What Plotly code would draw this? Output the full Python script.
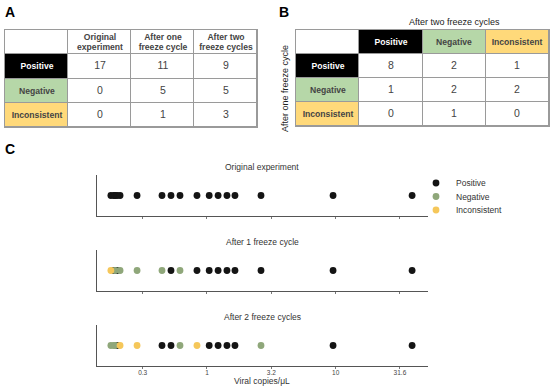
import plotly.graph_objects as go

# ---------------- data ----------------
status_labels = ["Positive", "Negative", "Inconsistent"]
col_headers_a = ["Original<br>experiment", "After one<br>freeze cycle", "After two<br>freeze cycles"]
counts_original = [17, 0, 0]
counts_one = [11, 5, 1]
counts_two = [9, 5, 3]

# cross table: rows = after one freeze cycle, columns = after two freeze cycles
cross_pos = [8, 2, 1]   # after one = Positive
cross_neg = [1, 2, 2]   # after one = Negative
cross_inc = [0, 1, 0]   # after one = Inconsistent

# viral copies per sample (copies/uL)
viral_copies = [0.179, 0.189, 0.193, 0.200, 0.211, 0.286, 0.447, 0.525, 0.617,
                0.836, 1.04, 1.22, 1.43, 1.65, 2.63, 9.55, 39.3]
status_original = ["Positive"] * 17
status_one = ["Inconsistent", "Positive", "Negative", "Positive", "Negative", "Negative",
              "Negative", "Positive", "Negative", "Positive", "Positive", "Positive",
              "Positive", "Positive", "Positive", "Positive", "Positive"]
status_two = ["Negative", "Negative", "Negative", "Positive", "Inconsistent", "Inconsistent",
              "Positive", "Positive", "Negative", "Inconsistent", "Positive", "Positive",
              "Positive", "Positive", "Negative", "Positive", "Positive"]
panel_titles = ["Original experiment", "After 1 freeze cycle", "After 2 freeze cycles"]
tick_vals = [0.3162, 1, 3.162, 10, 31.62]
tick_text = ["0.3", "1", "3.2", "10", "31.6"]

# ---------------- styles ----------------
W, H = 550, 387
FONT = "Arial, Liberation Sans, sans-serif"
GRID = "#9a9a9a"
fill_code = {"": 0, "Positive": 1, "Negative": 2, "Inconsistent": 3}
table_scale = [[0, "#ffffff"], [1 / 3, "#000000"], [2 / 3, "#b6d7a8"], [1, "#ffd97a"]]
dot_colors = {"Positive": "#141414", "Negative": "#8fa77a", "Inconsistent": "#f5c75a"}


def px(x):
    return x / W


def py(y):
    return 1 - y / H


def label(t, size=8.6):
    return "<br>".join(f"<span style='font-size:{size}px'><b>{ln}</b></span>"
                       for ln in t.split("<br>"))


def num(n):
    return f"<span style='font-size:10.5px'>{n}</span>"


fig = go.Figure()

# ---------------- Table A (heatmap cells) ----------------
text_a = [[""] + [label(h) for h in col_headers_a]]
z_a = [[0, 0, 0, 0]]
for i, s in enumerate(status_labels):
    text_a.append([label(s), num(counts_original[i]), num(counts_one[i]), num(counts_two[i])])
    z_a.append([fill_code[s], 0, 0, 0])

# ---------------- Table B (heatmap cells) ----------------
text_b = [[""] + [label(s) for s in status_labels]]
z_b = [[0] + [fill_code[s] for s in status_labels]]
for s, vals in zip(status_labels, [cross_pos, cross_neg, cross_inc]):
    text_b.append([label(s)] + [num(v) for v in vals])
    z_b.append([fill_code[s], 0, 0, 0])

for z, txt, ax in [(z_a, text_a, "4"), (z_b, text_b, "5")]:
    fig.add_trace(go.Heatmap(
        z=z, text=txt, texttemplate="%{text}", zmin=0, zmax=3, colorscale=table_scale,
        showscale=False, xgap=1, ygap=1, hoverinfo="skip",
        textfont=dict(family=FONT, size=7.5),
        xaxis="x" + ax, yaxis="y" + ax))

table_axis = dict(showticklabels=False, ticks="", showgrid=False, zeroline=False,
                  showline=True, mirror=True, linecolor=GRID, linewidth=1)
fig.layout["xaxis4"] = dict(domain=[px(5), px(257)], range=[-0.5, 3.5], anchor="y4", **table_axis)
fig.layout["yaxis4"] = dict(domain=[py(127), py(30)], range=[3.5, -0.5], anchor="x4", **table_axis)
fig.layout["xaxis5"] = dict(domain=[px(296), px(549)], range=[-0.5, 3.5], anchor="y5", **table_axis)
fig.layout["yaxis5"] = dict(domain=[py(126), py(30)], range=[3.5, -0.5], anchor="x5", **table_axis)

# ---------------- Panel C dot strips ----------------
rows = [status_original, status_one, status_two]
plot_tops = [175, 250, 325]
plot_h = 41
legend_names = {"Positive": "legend", "Negative": "legend2", "Inconsistent": "legend3"}

for i, (statuses, top) in enumerate(zip(rows, plot_tops)):
    ax = "" if i == 0 else str(i + 1)
    for s in status_labels:
        xs = [v for v, st in zip(viral_copies, statuses) if st == s]
        fig.add_trace(go.Scatter(
            x=xs if xs else [None], y=[0] * max(len(xs), 1), mode="markers", name=s,
            marker=dict(color=dot_colors[s], size=6.8, line=dict(width=0)),
            xaxis="x" + ax, yaxis="y" + ax,
            showlegend=(i == 0), legend=legend_names[s], hoverinfo="x"))
    fig.layout["xaxis" + ax] = dict(
        domain=[px(97), px(428)], type="log", range=[-0.855, 1.718],
        tickvals=tick_vals, ticktext=tick_text, showticklabels=(i == 2),
        ticks="outside", ticklen=2, tickcolor="#777", showline=True, linecolor="#555",
        linewidth=1, showgrid=False, zeroline=False, anchor="y" + ax,
        ticklabelstandoff=-2,
        tickfont=dict(family=FONT, size=6.5, color="#444"))
    fig.layout["yaxis" + ax] = dict(
        domain=[py(top + plot_h), py(top)], range=[-1, 1], showticklabels=False,
        showline=True, linecolor="#555", linewidth=1, showgrid=False, zeroline=False,
        ticks="", anchor="x" + ax)
    # white plotting background (table gaps use the gray plot background)
    fig.add_shape(type="rect", xref=f"x{ax} domain", yref=f"y{ax} domain",
                  x0=0, x1=1, y0=0, y1=1, fillcolor="white", line=dict(width=0), layer="below")
    fig.add_annotation(x=px(262), y=py(top - 8), xref="paper", yref="paper",
                       xanchor="center", yanchor="middle",
                       text=panel_titles[i], showarrow=False,
                       font=dict(family=FONT, size=8.5, color="#333"))

fig.add_annotation(x=px(262), y=py(380.5), xref="paper", yref="paper",
                   xanchor="center", yanchor="middle",
                   text="Viral copies/μL", showarrow=False,
                   font=dict(family=FONT, size=8.5, color="#333"))

# panel letters and table titles
for letter, x, y in [("A", 10, 12), ("B", 284, 12), ("C", 10, 149)]:
    fig.add_annotation(x=px(x), y=py(y), xref="paper", yref="paper", text=f"<b>{letter}</b>",
                       xanchor="center", yanchor="middle",
                       showarrow=False, font=dict(family=FONT, size=14, color="black"))
fig.add_annotation(x=px(454), y=py(22), xref="paper", yref="paper",
                   xanchor="center", yanchor="middle",
                   text="After two freeze cycles", showarrow=False,
                   font=dict(family=FONT, size=9, color="#222"))
fig.add_annotation(x=px(285), y=py(89), xref="paper", yref="paper",
                   xanchor="center", yanchor="middle",
                   text="After one freeze cycle", showarrow=False, textangle=-90,
                   font=dict(family=FONT, size=9, color="#222"))

legend_style = dict(xanchor="left", yanchor="middle", bgcolor="rgba(0,0,0,0)",
                    font=dict(family=FONT, size=8.5, color="#333"), itemwidth=30,
                    tracegroupgap=0)
fig.update_layout(
    width=W, height=H, margin=dict(l=0, r=0, t=0, b=0),
    paper_bgcolor="white", plot_bgcolor=GRID,
    legend=dict(x=px(416), y=py(183), **legend_style),
    legend2=dict(x=px(416), y=py(196.5), **legend_style),
    legend3=dict(x=px(416), y=py(210), **legend_style),
)

fig.write_html("out.html", config={"displayModeBar": False},
               post_script="document.body.style.margin='0';")
